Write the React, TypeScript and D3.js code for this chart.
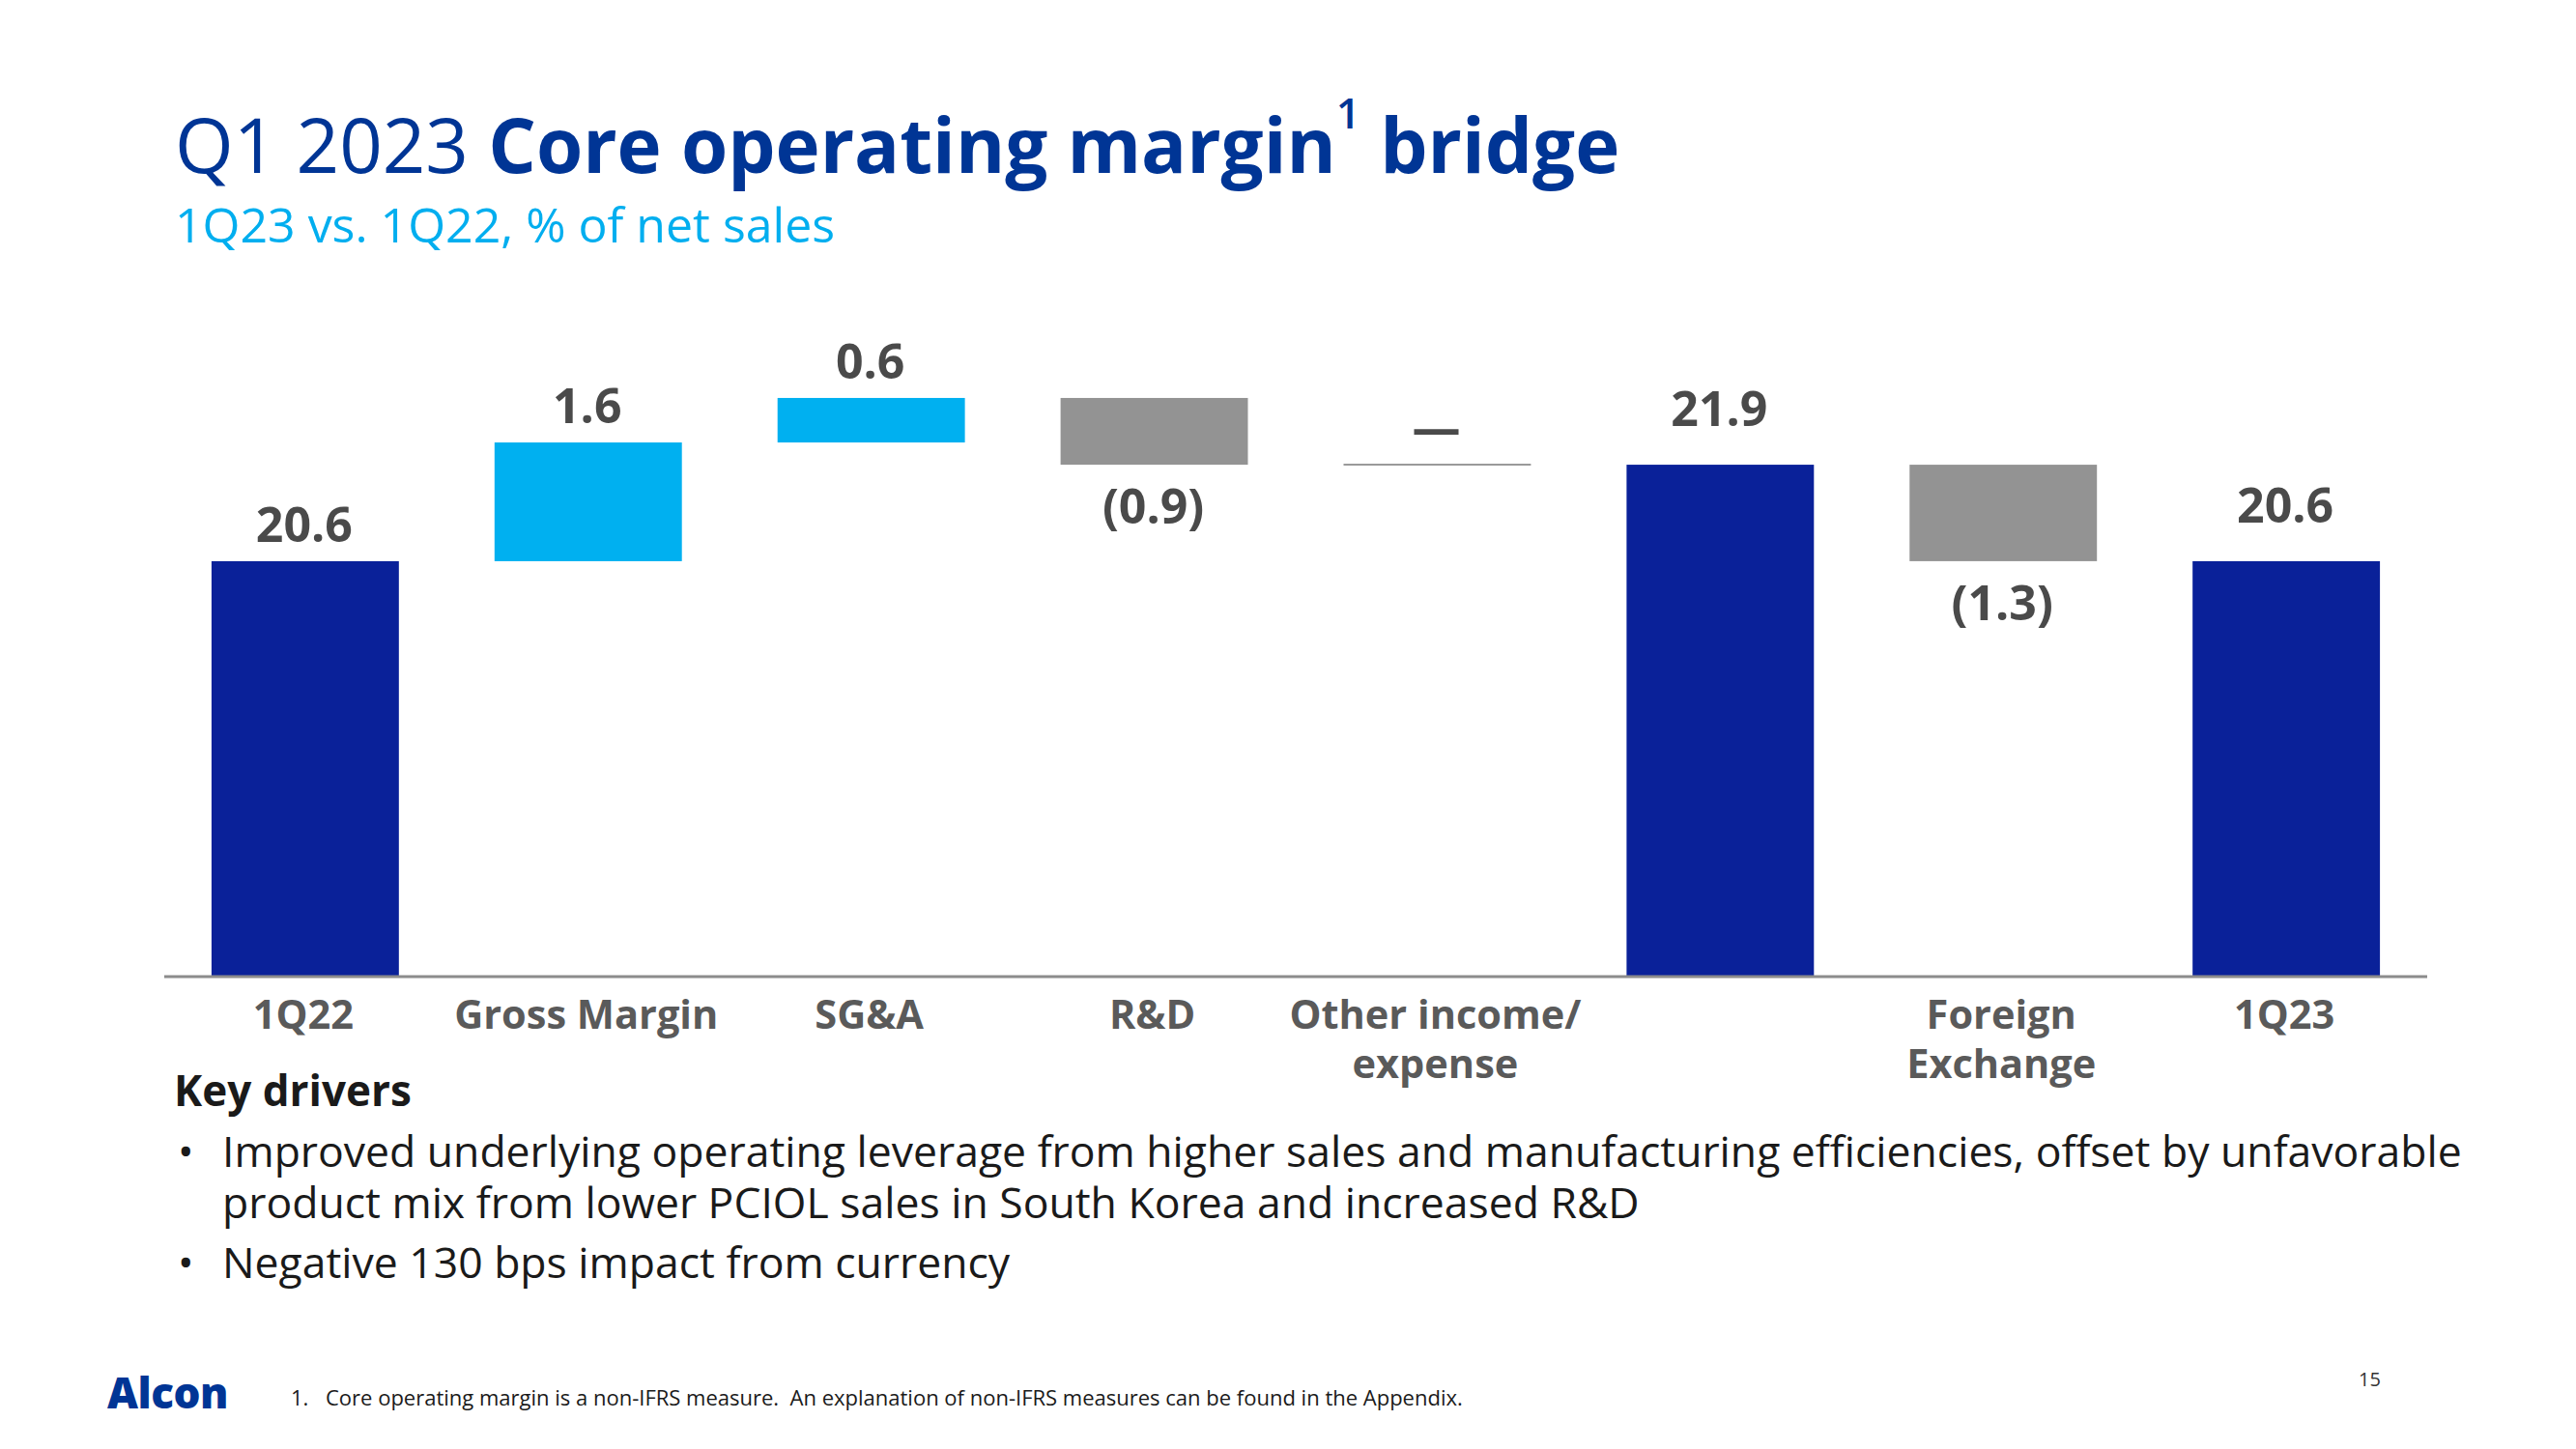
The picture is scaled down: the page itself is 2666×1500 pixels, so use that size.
import React from "react";
import * as d3 from "d3";

// ---------- data ----------
const categories = ["1Q22", "Gross Margin", "SG&A", "R&D", "Other income/expense", "Core 1Q23 pre-FX", "Foreign Exchange", "1Q23"];
const categoryLines = [["1Q22"], ["Gross Margin"], ["SG&A"], ["R&D"], ["Other income/", "expense"], [], ["Foreign", "Exchange"], ["1Q23"]];
const values = [20.6, 1.6, 0.6, -0.9, 0, 21.9, -1.3, 20.6];
const kinds = ["total", "delta", "delta", "delta", "delta", "total", "delta", "total"];
const valueLabels = ["20.6", "1.6", "0.6", "(0.9)", "\u2014", "21.9", "(1.3)", "20.6"];
const yDomain = [15, 23];

const titleRegular = "Q1 2023 ";
const titleBold = "Core operating margin";
const titleSup = "1";
const titleEnd = " bridge";
const subtitle = "1Q23 vs. 1Q22, % of net sales";
const driversHeading = "Key drivers";
const bullets = [
  ["Improved underlying operating leverage from higher sales and manufacturing efficiencies, offset by unfavorable", "product mix from lower PCIOL sales in South Korea and increased R&D"],
  ["Negative 130 bps impact from currency"],
];
const footnoteNum = "1.";
const footnote = "Core operating margin is a non-IFRS measure.\u00A0 An explanation of non-IFRS measures can be found in the Appendix.";
const pageNumber = "15";

// ---------- styles ----------
const FONT = "'Open Sans', 'Noto Sans', sans-serif";
const C_TITLE = "#003595";
const C_SUB = "#00AEEF";
const C_TOTAL = "#0A2199";
const C_UP = "#00B0F0";
const C_DOWN = "#939393";
const C_VAL = "#4A4A4A";
const C_CAT = "#5A5A5A";
const C_AXIS = "#8C8C8C";

export default function App() {
  const x = d3
    .scaleBand<number>()
    .domain(d3.range(categories.length))
    .range([170, 2512])
    .paddingInner(0.338)
    .paddingOuter(0.167);
  const y = d3.scaleLinear().domain(yDomain).range([1011, 1011 - 8 * 76.8]);

  // waterfall computation
  let running = 0;
  const bars = values.map((v, i) => {
    let lo: number, hi: number;
    if (kinds[i] === "total") {
      lo = yDomain[0];
      hi = v;
      running = v;
    } else {
      const start = running;
      const end = running + v;
      lo = Math.min(start, end);
      hi = Math.max(start, end);
      running = end;
    }
    const color = kinds[i] === "total" ? C_TOTAL : v > 0 ? C_UP : C_DOWN;
    return { i, v, lo, hi, color };
  });

  const bw = x.bandwidth();

  return (
    <svg
      width={2666}
      height={1500}
      viewBox="0 0 2666 1500"
      style={{ position: "absolute", left: 0, top: 0, display: "block", background: "#fff" }}
      fontFamily={FONT}
    >
      <rect x={0} y={0} width={2666} height={1500} fill="#fff" />
      {/* title */}
      <text x={181} y={179} fontSize={78} fill={C_TITLE}>
        <tspan>{titleRegular}</tspan>
        <tspan fontWeight={700}>{titleBold}</tspan>
        <tspan fontSize={44} fontWeight={600} dy={-46}>{titleSup}</tspan>
        <tspan fontWeight={700} dy={46}>{titleEnd}</tspan>
      </text>
      <text x={181} y={251} fontSize={50} fill={C_SUB}>
        {subtitle}
      </text>

      {/* bars */}
      {bars.map((b) => {
        const x0 = x(b.i) as number;
        const top = y(b.hi);
        const bottom = y(b.lo);
        const h = bottom - top;
        return h < 1 ? (
          <line key={"b" + b.i} x1={x0} x2={x0 + bw} y1={top} y2={top} stroke="#9A9A9A" strokeWidth={2} />
        ) : (
          <rect key={"b" + b.i} x={x0} y={top} width={bw} height={h} fill={b.color} />
        );
      })}

      {/* axis line */}
      <line x1={170} x2={2512} y1={1011} y2={1011} stroke={C_AXIS} strokeWidth={3} />

      {/* value labels */}
      {bars.map((b) => {
        const cx = (x(b.i) as number) + bw / 2;
        let yy: number;
        if (kinds[b.i] === "delta" && b.v < 0) yy = y(b.lo) + 61;
        else if (kinds[b.i] === "total" && b.i > 0) yy = y(b.hi) - 40;
        else yy = y(b.hi) - 20;
        return (
          <text key={"v" + b.i} x={cx - 1} y={yy} textAnchor="middle" fontSize={50} fontWeight={700} fill={C_VAL}>
            {valueLabels[b.i]}
          </text>
        );
      })}

      {/* category labels */}
      {categoryLines.map((lines, i) => (
        <text key={"c" + i} textAnchor="middle" fontSize={41.5} fontWeight={700} fill={C_CAT}>
          {lines.map((ln, j) => (
            <tspan key={j} x={(x(i) as number) + bw / 2 - 2} y={1065 + j * 51}>
              {ln}
            </tspan>
          ))}
        </text>
      ))}

      {/* key drivers */}
      <text x={180} y={1145} fontSize={44} fontWeight={700} fill="#1A1A1A">
        {driversHeading}
      </text>
      {(() => {
        const out: React.ReactNode[] = [];
        let yy = 1208;
        bullets.forEach((para, pi) => {
          out.push(
            <text key={"bd" + pi} x={184} y={yy} fontSize={44} fill="#1A1A1A">
              {"\u2022"}
            </text>
          );
          para.forEach((ln, li) => {
            out.push(
              <text key={"bl" + pi + "-" + li} x={230} y={yy} fontSize={44.5} fill="#1A1A1A">
                {ln}
              </text>
            );
            yy += 53;
          });
          yy += 9;
        });
        return out;
      })()}

      {/* footer */}
      <text x={111} y={1458} fontSize={44} fontWeight={800} fill={C_TITLE} letterSpacing={-0.5}>
        Alcon
      </text>
      <text x={301} y={1455} fontSize={22} fill="#1A1A1A">
        {footnoteNum}
      </text>
      <text x={337} y={1455} fontSize={22} fill="#1A1A1A">
        {footnote}
      </text>
      <text x={2441} y={1435} fontSize={20} fill="#333">
        {pageNumber}
      </text>
    </svg>
  );
}
